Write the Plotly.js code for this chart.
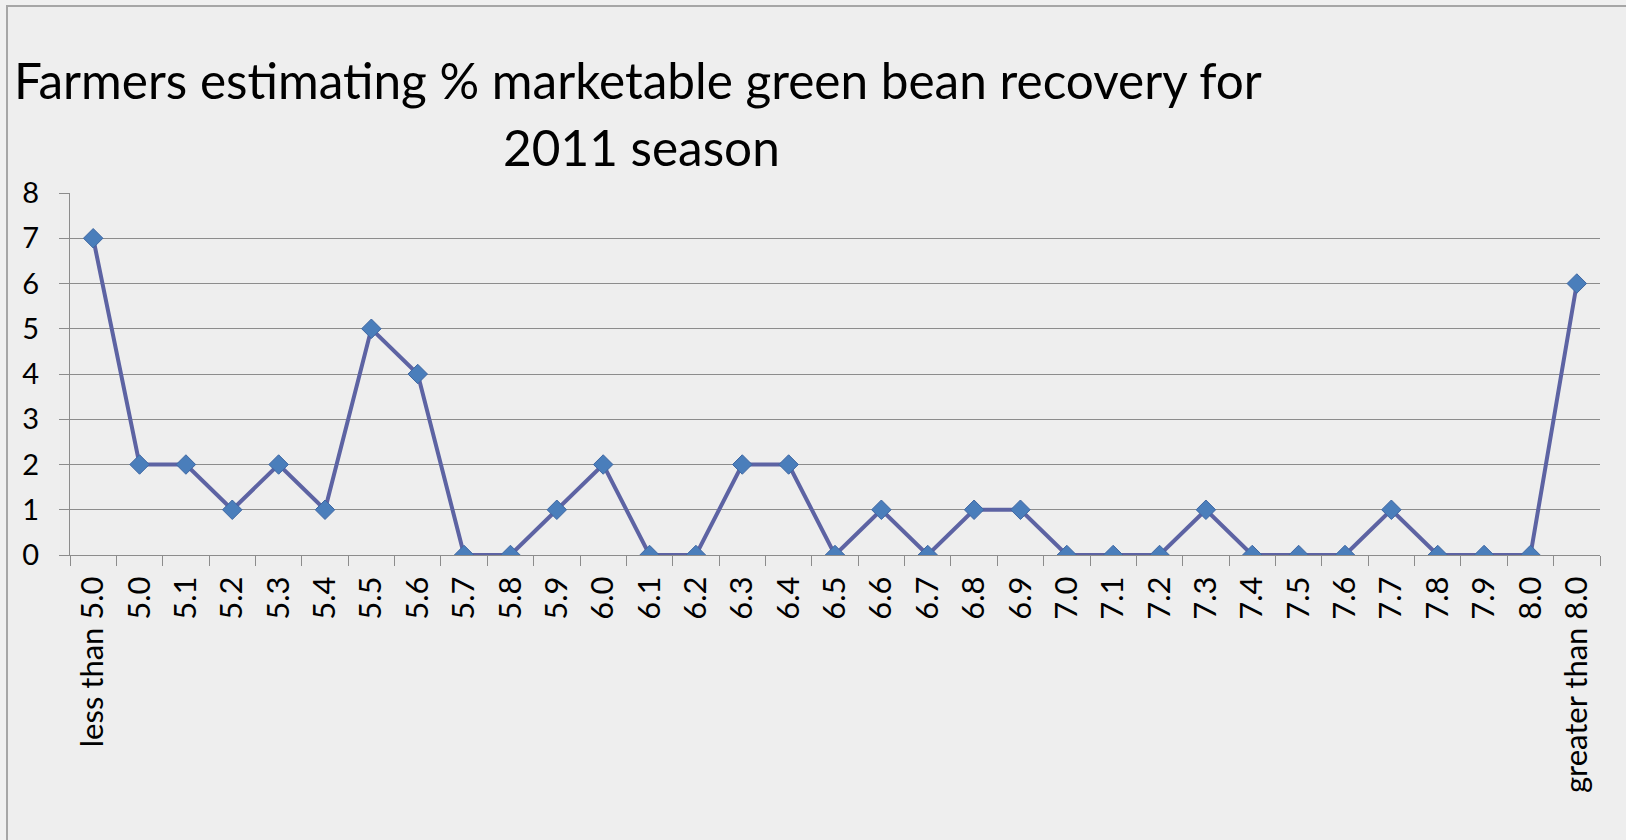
<!DOCTYPE html>
<html>
<head>
<meta charset="utf-8">
<script src="https://cdn.plot.ly/plotly-3.0.1.min.js"></script>
<style>
  html, body { margin: 0; padding: 0; background: #f0f0f0; width: 1626px; height: 840px; overflow: hidden; }
  #frame { position: absolute; left: 6px; top: 5px; width: 1620px; height: 835px; background: #eeeeee;
           border-left: 2px solid #a6a6a6; border-top: 2px solid #a6a6a6; box-sizing: border-box; }
  #chart { position: absolute; left: 0; top: 0; width: 1626px; height: 840px; }
</style>
</head>
<body>
<div id="frame"></div>
<div id="chart"></div>
<script>
const categories = ["less than 5.0", "5.0", "5.1", "5.2", "5.3", "5.4", "5.5", "5.6", "5.7", "5.8",
  "5.9", "6.0", "6.1", "6.2", "6.3", "6.4", "6.5", "6.6", "6.7", "6.8", "6.9", "7.0", "7.1", "7.2",
  "7.3", "7.4", "7.5", "7.6", "7.7", "7.8", "7.9", "8.0", "greater than 8.0"];
const farmers = [7, 2, 2, 1, 2, 1, 5, 4, 0, 0, 1, 2, 0, 0, 2, 2, 0, 1, 0, 1, 1, 0, 0, 0, 1, 0, 0, 0, 1, 0, 0, 0, 6];
const yTicks = [0, 1, 2, 3, 4, 5, 6, 7, 8];
const titleLine1 = "Farmers estimating % marketable green bean recovery for";
const titleLine2 = "2011 season";

const font = "Lato, 'Open Sans', sans-serif";

const trace = {
  type: "scatter",
  mode: "lines+markers",
  x: categories,
  y: farmers,
  line: { color: "#5d63a3", width: 4 },
  marker: { symbol: "diamond", size: 15, color: "#4a7ebb", line: { color: "#3f67a3", width: 1 } },
  hoverinfo: "x+y"
};

const layout = {
  width: 1626,
  height: 840,
  margin: { l: 70, r: 26, t: 193, b: 285 },
  paper_bgcolor: "rgba(0,0,0,0)",
  plot_bgcolor: "rgba(0,0,0,0)",
  showlegend: false,
  font: { family: font, color: "#000000" },
  xaxis: {
    type: "category",
    tickmode: "array",
    tickvals: categories,
    ticktext: categories,
    tickangle: -90,
    tickson: "boundaries",
    ticks: "outside",
    ticklen: 10,
    tickcolor: "#8c8c8c",
    tickwidth: 1,
    ticklabelstandoff: 8,
    tickfont: { family: font, size: 31, color: "#000000" },
    showline: true,
    linecolor: "#8c8c8c",
    linewidth: 1,
    showgrid: false,
    zeroline: false,
    range: [-0.5, categories.length - 0.5],
    fixedrange: true
  },
  yaxis: {
    range: [0, 8],
    tickmode: "array",
    tickvals: yTicks,
    ticktext: yTicks.map(String),
    ticks: "outside",
    ticklen: 10,
    tickcolor: "#8c8c8c",
    ticklabelstandoff: 14,
    tickfont: { family: font, size: 29, color: "#000000" },
    showline: true,
    linecolor: "#8c8c8c",
    linewidth: 1,
    showgrid: true,
    gridcolor: "#8c8c8c",
    gridwidth: 1,
    zeroline: false,
    fixedrange: true
  },
  annotations: [
    {
      text: titleLine1, xref: "paper", yref: "paper",
      x: (12 - 70) / 1530, y: 1 + 113 / 362, xanchor: "left", yanchor: "middle",
      showarrow: false, font: { family: font, size: 49.5, color: "#000000" }
    },
    {
      text: titleLine2, xref: "paper", yref: "paper",
      x: (641 - 70) / 1530, y: 1 + 46 / 362, xanchor: "center", yanchor: "middle",
      showarrow: false, font: { family: font, size: 49.5, color: "#000000" }
    }
  ]
};

Plotly.newPlot("chart", [trace], layout, { displayModeBar: false, staticPlot: true });
</script>
</body>
</html>
